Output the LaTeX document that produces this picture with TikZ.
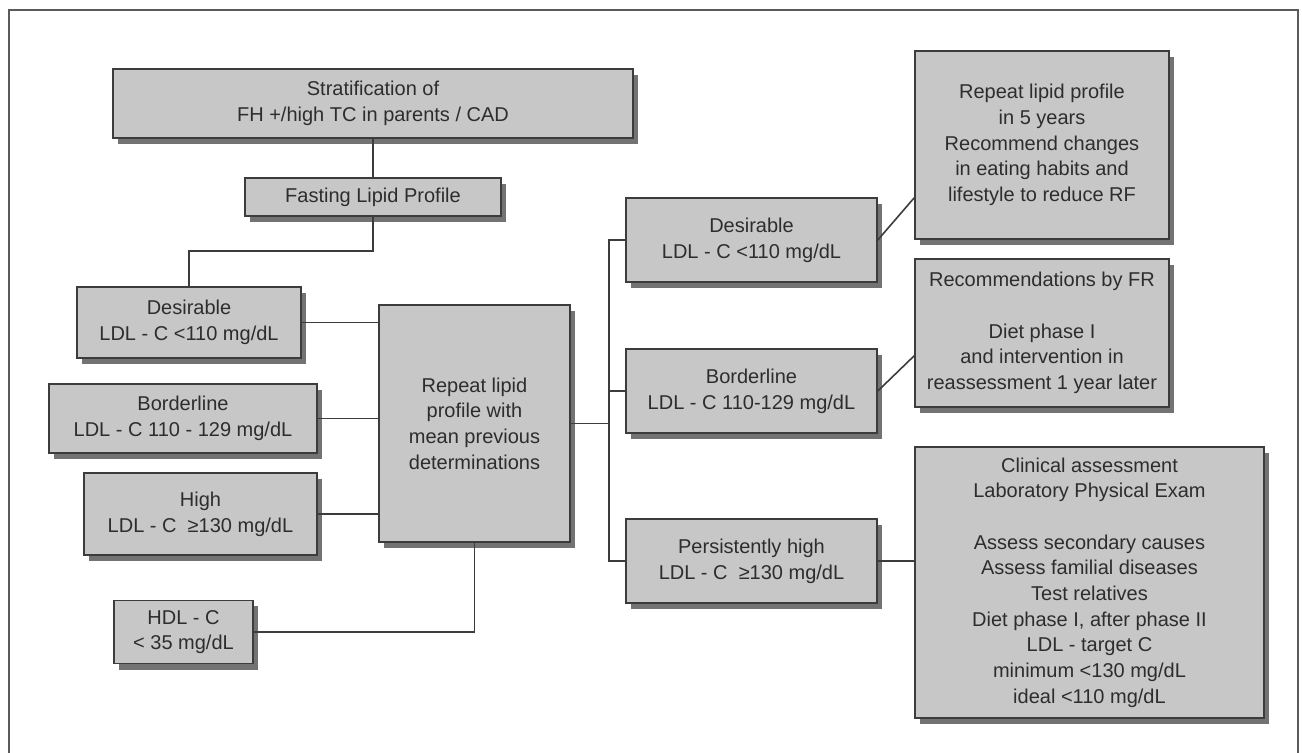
\documentclass[tikz,border=0pt]{standalone}
\usepackage{fontspec}
\setmainfont{Liberation Sans}
\usepackage{tikz}
\usetikzlibrary{calc}
\usetikzlibrary{shadows}
\definecolor{boxgray}{RGB}{199,199,199}
\definecolor{edgegray}{RGB}{60,60,60}
\definecolor{textgray}{RGB}{45,45,45}
\definecolor{framegray}{RGB}{90,90,90}

\begin{document}
\begin{tikzpicture}[x=0.5pt,y=-0.5pt,every node/.style = {align=center},
box/.style={draw=edgegray, line width=0.8pt, fill=boxgray, text=textgray,
  font=\fontsize{10}{12.85}\selectfont, inner xsep=1pt,
  drop shadow={shadow xshift=2.5pt, shadow yshift=-3pt, fill=black, opacity=0.55}},
link/.style={draw=edgegray, line width=0.8pt}]
\useasboundingbox (0,0) rectangle (1302,753);
\draw [framegray, line width=0.7pt] (9,780) -- (9,10) -- (1298,10) -- (1298,780);

\node[box, minimum width=260pt, minimum height=34.5pt] (strat) at (373,103.5) {Stratification of\\FH +/high TC in parents / CAD};
\node[box, minimum width=128pt, minimum height=19pt] (fast) at (373,197) {Fasting Lipid Profile};
\node[box, minimum width=112pt, minimum height=35.5pt] (ldes) at (189,322.5) {Desirable\\LDL - C <110 mg/dL};
\node[box, minimum width=134pt, minimum height=34.5pt] (lbord) at (183,418.5) {Borderline\\LDL - C 110 - 129 mg/dL};
\node[box, minimum width=116.5pt, minimum height=41pt] (lhigh) at (200.5,514) {High\\LDL - C ~≥130 mg/dL};
\node[box, minimum width=69.5pt, minimum height=31.5pt] (hdl) at (183.5,632) {HDL - C\\< 35 mg/dL};
\node[box, minimum width=95.5pt, minimum height=118.5pt] (rep) at (474.5,423.5) {Repeat lipid\\profile with\\mean previous\\determinations};

\node[box, minimum width=125.5pt, minimum height=42pt] (rdes) at (751.5,240) {Desirable\\LDL - C <110 mg/dL};
\node[box, minimum width=125.5pt, minimum height=42pt] (rbord) at (751.5,391) {Borderline\\LDL - C 110-129 mg/dL};
\node[box, minimum width=125.5pt, minimum height=42pt] (rhigh) at (751.5,561) {Persistently high\\LDL - C ~≥130 mg/dL};

\node[box, minimum width=127pt, minimum height=94pt] (five) at (1042,145) {Repeat lipid profile\\in 5 years\\Recommend changes\\in eating habits and\\lifestyle to reduce RF};
\node[box, minimum width=127pt, minimum height=74pt] (recfr) at (1042,333) {Recommendations by FR\\[12.85pt]Diet phase I\\and intervention in\\reassessment 1 year later};
\node[box, minimum width=174.5pt, minimum height=135.5pt] (clin) at (1089.5,582.5) {Clinical assessment\\Laboratory Physical Exam\\[12.85pt]Assess secondary causes\\Assess familial diseases\\Test relatives\\Diet phase I, after phase II\\LDL - target C\\minimum <130 mg/dL\\ideal <110 mg/dL};

\coordinate (trunk) at (609,0);
\draw [link] (strat) -- (fast);
\draw [link] (fast.south) -- ++(0,34) -| (ldes.north);
\draw [link] (ldes.east) -- (ldes.east -| rep.west);
\draw [link] (lbord.east) -- (lbord.east -| rep.west);
\draw [link] (lhigh.east) -- (lhigh.east -| rep.west);
\draw [link] (rep.south) |- (hdl.east);
\draw [link] (rep.east) -- (rep.east -| trunk);
\draw [link] (rdes.west) -- (rdes.west -| trunk) -- (rhigh.west -| trunk) -- (rhigh.west);
\draw [link] (rbord.west) -- (rbord.west -| trunk);
\draw [link] (rdes.east) -- ($(five.south west)+(0,-42)$);
\draw [link] (rbord.east) -- ($(recfr.south west)+(0,-52)$);
\draw [link] (rhigh.east) -- (rhigh.east -| clin.west);
\end{tikzpicture}
\end{document}
